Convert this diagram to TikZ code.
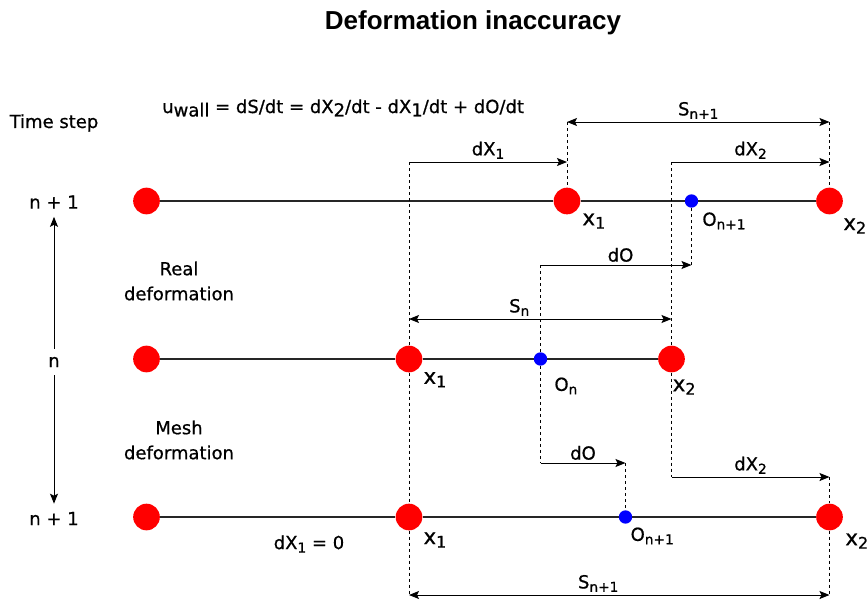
\documentclass[tikz,border=0pt]{standalone}
\usepackage{fontspec}
\setmainfont{DejaVu Sans}[FakeBold=0.7]
\newfontfamily\headfont{Liberation Sans}
\usetikzlibrary{positioning,arrows.meta}
\definecolor{defRed}{HTML}{FF0000}
\definecolor{defBlue}{HTML}{0000FF}
\definecolor{defRod}{HTML}{262626}

% lowered subscript as the picture sets it: [size]{text}
\newcommand{\lowsub}[2][10.3]{\raisebox{-2.6pt}{\fontsize{#1}{#1}\selectfont #2}}

\begin{document}
\begin{tikzpicture}[x=0.75pt, y=-0.75pt,
  reddot/.style={circle, fill=defRed, minimum size=20pt, inner sep=0pt},
  bluedot/.style={circle, fill=defBlue, minimum size=10pt, inner sep=0pt},
  rod/.style={draw=defRod, line width=1.9pt},
  guide/.style={line width=0.6pt, dash pattern=on 2.25pt off 2.25pt},
  dimto/.style={line width=0.75pt, -{Stealth[length=7.5pt, width=6pt, inset=1.5pt]}},
  dimboth/.style={line width=0.75pt, {Stealth[length=7.5pt, width=6pt, inset=1.5pt]}-{Stealth[length=7.5pt, width=6pt, inset=1.5pt]}},
  lbl/.style={font=\fontsize{13.5}{18.75}\selectfont, inner sep=1pt},
  dimlbl/.style={lbl, above, inner sep=2pt},
  timelbl/.style={lbl, inner sep=6pt},
  xlbl/.style={font=\fontsize{16}{18}\selectfont, inner sep=0pt},
  olbl/.style={lbl, inner sep=0pt},
]
\useasboundingbox (0,0) rectangle (867,604);

% --- TITLE + WALL VELOCITY ---
\node[font=\headfont\bfseries\fontsize{19.5}{22}\selectfont] (title) at (473,23) {Deformation inaccuracy};
\node[lbl, anchor=base west, inner sep=0pt] (uwall) at (162,113)
  {u\lowsub[13.5]{wall} = dS/dt = dX\lowsub[13.5]{2}/dt - dX\lowsub[13.5]{1}/dt + dO/dt};

% --- TIME STEP AXIS ---
\node[lbl] (tstep) at (54,123) {Time step};
\node[timelbl] (ntop) at (54,202) {n + 1};
\node[timelbl] (nmid) at (54,362) {n};
\node[timelbl] (nbot) at (54,518.5) {n + 1};
\draw[dimto] (nmid) -- (ntop);
\draw[dimto] (nmid) -- (nbot);

\node[lbl, align=center] (real) at (179,281) {Real\\deformation};
\node[lbl, align=center] (mesh) at (179,440) {Mesh\\deformation};

% --- ROWS: left end, x1, O, x2 ---
\foreach \r/\yy/\xa/\xo/\xb in {t/201/567/691.5/829.5, m/359/409/540.5/671.5, b/517/409/625.5/829.5} {
  \node[reddot] (\r-L) at (146.5,\yy) {};
  \node[reddot] (\r-X1) at (\xa,\yy) {};
  \node[bluedot] (\r-O) at (\xo,\yy) {};
  \node[reddot] (\r-X2) at (\xb,\yy) {};
  \draw[rod] (\r-L) -- (\r-X1) -- (\r-O) -- (\r-X2);
}

% --- POINT LABELS ---
\node[xlbl, below right=2pt and 4.2pt of t-X1] (t-x1lbl) {x\lowsub[12]{1}};
\node[xlbl, below right=5.7pt and 3pt of t-X2] (t-x2lbl) {x\lowsub[12]{2}};
\node[olbl, below right=4.7pt and 4.3pt of t-O] (t-olbl) {O\lowsub{n+1}};
\node[xlbl, below right=2.5pt and 3.5pt of m-X1] (m-x1lbl) {x\lowsub[12]{1}};
\node[xlbl, below right=8pt and -6.5pt of m-X2] (m-x2lbl) {x\lowsub[12]{2}};
\node[olbl, below right=10pt and 6.6pt of m-O] (m-olbl) {O\lowsub{n}};
\node[xlbl, below right=4.2pt and 3.5pt of b-X1] (b-x1lbl) {x\lowsub[12]{1}};
\node[xlbl, below right=5pt and 4.5pt of b-X2] (b-x2lbl) {x\lowsub[12]{2}};
\node[olbl, below right=4pt and 0pt of b-O] (b-olbl) {O\lowsub{n+1}};
\node[lbl] (dx1zero) at (309,544) {dX\lowsub{1} = 0};

% --- DIMENSION ENDS ---
\coordinate (st-a) at (t-X1 |- 0,122);
\coordinate (st-b) at (t-X2 |- 0,122);
\coordinate (dx1-a) at (m-X1 |- 0,162);
\coordinate (dx1-b) at (t-X1 |- 0,162);
\coordinate (dx2-a) at (m-X2 |- 0,162);
\coordinate (dx2-b) at (t-X2 |- 0,162);
\coordinate (do-a) at (m-O |- 0,265);
\coordinate (do-b) at (t-O |- 0,265);
\coordinate (sn-a) at (m-X1 |- 0,319);
\coordinate (sn-b) at (m-X2 |- 0,319);
\coordinate (do-c) at (m-O |- 0,463);
\coordinate (do-d) at (b-O |- 0,463);
\coordinate (dx2-c) at (m-X2 |- 0,477);
\coordinate (dx2-d) at (b-X2 |- 0,477);
\coordinate (sb-a) at (b-X1 |- 0,595);
\coordinate (sb-b) at (b-X2 |- 0,595);

% --- GUIDES ---
\draw[guide] (dx1-a) -- (m-X1) -- (b-X1) -- (sb-a);
\draw[guide] (st-a) -- (t-X1);
\draw[guide] (st-b) -- (t-X2);
\draw[guide] (dx2-a) -- (m-X2) -- (dx2-c);
\draw[guide] (do-a) -- (m-O) -- (do-c);
\draw[guide] (do-b) -- (t-O);
\draw[guide] (do-d) -- (b-O);
\draw[guide] (dx2-d) -- (b-X2) -- (sb-b);

% --- DIMENSIONS ---
\draw[dimboth] (st-a) -- node[dimlbl] {S\lowsub{n+1}} (st-b);
\draw[dimto] (dx1-a) -- node[dimlbl] {dX\lowsub{1}} (dx1-b);
\draw[dimto] (dx2-a) -- node[dimlbl] {dX\lowsub{2}} (dx2-b);
\draw[dimto] (do-a) -- node[dimlbl, pos=0.53] {dO} (do-b);
\draw[dimboth] (sn-a) -- node[dimlbl, pos=0.42] {S\lowsub{n}} (sn-b);
\draw[dimto] (do-c) -- node[dimlbl] {dO} (do-d);
\draw[dimto] (dx2-c) -- node[dimlbl] {dX\lowsub{2}} (dx2-d);
\draw[dimboth] (sb-a) -- node[dimlbl, pos=0.45] {S\lowsub{n+1}} (sb-b);

\end{tikzpicture}
\end{document}
